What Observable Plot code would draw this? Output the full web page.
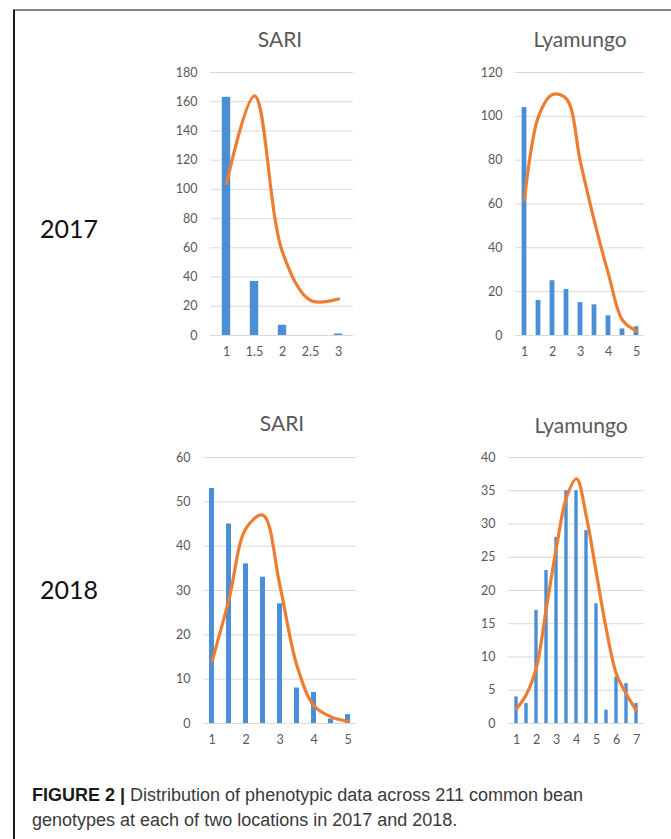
<!DOCTYPE html>
<html>
<head>
<meta charset="utf-8">
<script src="https://cdn.jsdelivr.net/npm/d3@7"></script>
<script src="https://cdn.jsdelivr.net/npm/@observablehq/plot@0.6"></script>
<style>
  html, body { margin: 0; padding: 0; background: #fff; }
  #page { position: relative; width: 671px; height: 839px; overflow: hidden; background: #fff; }
  .frameL { position: absolute; left: 13px; top: 10px; width: 2px; height: 829px; background: #1a1a1a; }
  .frameT { position: absolute; left: 13px; top: 9px; width: 658px; height: 2px; background: #858585; }
  .title { position: absolute; font-family: Lato, sans-serif; font-size: 21px; color: #595959; transform: translate(-50%, -50%); white-space: nowrap; }
  .year { position: absolute; font-family: Lato, sans-serif; font-size: 25px; color: #111; transform: translateY(-50%); }
  .panel { position: absolute; }
  .caption { position: absolute; left: 32px; top: 783px; width: 600px; font-family: "Liberation Sans", Arial, sans-serif; font-size: 18px; line-height: 25px; color: #3a3a3a; }
  .caption b { color: #1a1a1a; }
</style>
</head>
<body>
<div id="page">
  <div class="frameT"></div>
  <div class="frameL"></div>
  <div class="year" style="left:40px; top:228px;">2017</div>
  <div class="year" style="left:40px; top:589px;">2018</div>
  <div class="title" style="left:280px; top:38px;">SARI</div>
  <div class="title" style="left:580px; top:38px;">Lyamungo</div>
  <div class="title" style="left:282px; top:422px;">SARI</div>
  <div class="title" style="left:581px; top:424px;">Lyamungo</div>
  <div class="caption"><b>FIGURE 2 |</b> Distribution of phenotypic data across 211 common bean<br>genotypes at each of two locations in 2017 and 2018.</div>
</div>
<script>
// ---- Data ----
const sari2017Cats   = [1, 1.5, 2, 2.5, 3];
const sari2017Counts = [163, 37, 7, 0, 1];
const sari2017Curve  = [104, 164, 57, 24, 25];
const sari2017YTicks = [0, 20, 40, 60, 80, 100, 120, 140, 160, 180];
const sari2017XTicks = [1, 1.5, 2, 2.5, 3];

const lya2017Cats   = [1, 1.5, 2, 2.5, 3, 3.5, 4, 4.5, 5];
const lya2017Counts = [104, 16, 25, 21, 15, 14, 9, 3, 4];
const lya2017Curve  = [62, 100, 110, 108, 79, 52, 28, 7, 2];
const lya2017YTicks = [0, 20, 40, 60, 80, 100, 120];
const lya2017XTicks = [1, 2, 3, 4, 5];

const sari2018Cats   = [1, 1.5, 2, 2.5, 3, 3.5, 4, 4.5, 5];
const sari2018Counts = [53, 45, 36, 33, 27, 8, 7, 1, 2];
const sari2018Curve  = [14, 28, 44, 47, 31, 13, 4, 1.5, 0.5];
const sari2018YTicks = [0, 10, 20, 30, 40, 50, 60];
const sari2018XTicks = [1, 2, 3, 4, 5];

const lya2018Cats   = [1, 1.5, 2, 2.5, 3, 3.5, 4, 4.5, 5, 5.5, 6, 6.5, 7];
const lya2018Counts = [4, 3, 17, 23, 28, 35, 35, 29, 18, 2, 7, 6, 3];
const lya2018Curve  = [2.2, 4.4, 8.5, 17.5, 26.5, 34, 36.8, 31, 22.5, 14, 7.4, 4.4, 1.9];
const lya2018YTicks = [0, 5, 10, 15, 20, 25, 30, 35, 40];
const lya2018XTicks = [1, 2, 3, 4, 5, 6, 7];

const BAR = "#4a8fd6";
const CURVE = "#ed7d31";

function panel({cats, counts, curve, yTicks, xTicks, left, top, width, height, mL, mR, mT, mB, inset}) {
  const rows = cats.map((c, i) => ({c, n: counts[i], f: curve[i]}));
  const chart = Plot.plot({
    width, height,
    marginLeft: mL, marginRight: mR, marginTop: mT, marginBottom: mB,
    style: {fontFamily: "Lato, sans-serif", fontSize: "12.5px", color: "#595959", background: "transparent", overflow: "visible"},
    x: {type: "band", domain: cats, padding: 0, label: null},
    y: {domain: [yTicks[0], yTicks[yTicks.length - 1]], label: null},
    marks: [
      Plot.gridY(yTicks, {stroke: "#d9d9d9", strokeOpacity: 1, strokeWidth: 1}),
      Plot.axisY({ticks: yTicks, tickSize: 0, tickPadding: 13, label: null}),
      Plot.axisX({ticks: xTicks, tickSize: 0, tickPadding: 12, label: null, tickFormat: d => String(d)}),
      Plot.barY(rows, {x: "c", y: "n", fill: BAR, insetLeft: inset, insetRight: inset}),
      Plot.lineY(rows, {x: "c", y: "f", stroke: CURVE, strokeWidth: 3.2, curve: "catmull-rom"})
    ]
  });
  chart.classList.add("panel");
  chart.style.left = left + "px";
  chart.style.top = top + "px";
  document.getElementById("page").appendChild(chart);
}

panel({cats: sari2017Cats, counts: sari2017Counts, curve: sari2017Curve, yTicks: sari2017YTicks, xTicks: sari2017XTicks,
  left: 150, top: 60, width: 215, height: 310, mL: 60, mR: 12, mT: 12, mB: 35, inset: 9.8});
panel({cats: lya2017Cats, counts: lya2017Counts, curve: lya2017Curve, yTicks: lya2017YTicks, xTicks: lya2017XTicks,
  left: 450, top: 60, width: 210, height: 310, mL: 65, mR: 16, mT: 12, mB: 35, inset: 4.6});
panel({cats: sari2018Cats, counts: sari2018Counts, curve: sari2018Curve, yTicks: sari2018YTicks, xTicks: sari2018XTicks,
  left: 150, top: 445, width: 215, height: 313, mL: 53, mR: 9, mT: 12, mB: 35, inset: 6});
panel({cats: lya2018Cats, counts: lya2018Counts, curve: lya2018Curve, yTicks: lya2018YTicks, xTicks: lya2018XTicks,
  left: 450, top: 445, width: 210, height: 313, mL: 58, mR: 16, mT: 12, mB: 35, inset: 3.3});
</script>
</body>
</html>
